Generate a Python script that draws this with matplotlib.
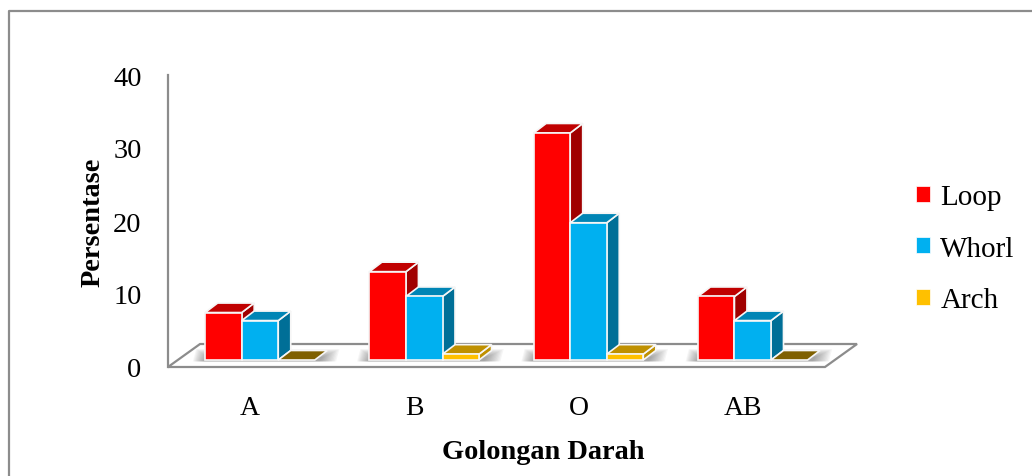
import matplotlib
matplotlib.use('Agg')
import matplotlib.pyplot as plt
from matplotlib.lines import Line2D
from matplotlib.patches import Patch

categories = ['A', 'B', 'O', 'AB']
loop = [6.5, 12.1, 31.1, 8.7]
whorl = [5.4, 8.7, 18.8, 5.4]
arch = [0, 0.8, 0.8, 0]

series_names = ['Loop', 'Whorl', 'Arch']
front_colors = ['#FF0000', '#00B0F0', '#FFC000']
side_colors = ['#A00000', '#006F97', '#BF9000']
top_colors = ['#C00000', '#0085B5', '#BF9000']
zero_color = '#7F6000'

GRAY = '#8C8C8C'
BAR_W = 0.2225
OFF_X = 0.06       # bars sit a little inside the floor
BASE_Y = 0.96
DEPTH_X = 0.076
DEPTH_Y = 1.3
FLOOR_X = 0.195
FLOOR_Y = 3.15

plt.rcParams['font.family'] = ['Liberation Serif', 'DejaVu Serif']


def draw_bar(ax, x, value, i, z):
    y0 = BASE_Y
    y1 = BASE_Y + value
    left = x - BAR_W / 2
    right = x + BAR_W / 2
    edge = dict(edgecolor='#F6F6F6', linewidth=1.2, clip_on=False, zorder=z)
    top = top_colors[i] if value > 0 else zero_color
    if value > 0:
        ax.fill([right, right + DEPTH_X, right + DEPTH_X, right],
                [y0, y0 + DEPTH_Y, y1 + DEPTH_Y, y1], facecolor=side_colors[i], **edge)
    ax.fill([left, right, right + DEPTH_X, left + DEPTH_X],
            [y1, y1, y1 + DEPTH_Y, y1 + DEPTH_Y], facecolor=top, **edge)
    if value > 0:
        ax.bar(x, value, BAR_W, bottom=y0, color=front_colors[i], **edge)


fig = plt.figure(figsize=(10.32, 4.77), dpi=100)
# outer frame: only left and top are inside the picture
fig.add_artist(Line2D([9 / 1032, 9 / 1032, 1], [0, 1 - 11.5 / 477, 1 - 11.5 / 477],
                      color=GRAY, linewidth=1.6, transform=fig.transFigure))

ax = fig.add_axes([168 / 1032, 109 / 477, 657 / 1032, 292 / 477])
ax.set_xlim(-0.5, len(categories) - 0.5)
ax.set_ylim(0, 40)

# floor
ax.fill([-0.5, 3.5, 3.5 + FLOOR_X, -0.5 + FLOOR_X], [0, 0, FLOOR_Y, FLOOR_Y],
        facecolor='white', edgecolor=GRAY, linewidth=1.6, clip_on=False, zorder=1)

values = [loop, whorl, arch]
for g in range(len(categories)):
    cx = g + OFF_X
    # soft shadow under each group, darker towards the middle
    for k in range(12):
        x0 = cx - 1.5 * BAR_W - 0.075 + 0.006 * k
        x1 = cx + 1.5 * BAR_W + 0.13 - 0.009 * k
        y0 = BASE_Y - 0.2
        y1 = BASE_Y + 1.5 - 0.1 * k
        ax.fill([x0, x1, x1 + 0.02, x0 + 0.02], [y0, y0, y1, y1],
                facecolor='#555555', alpha=0.055, edgecolor='none', clip_on=False, zorder=2)
    for i in range(3):
        draw_bar(ax, cx + (i - 1) * BAR_W, values[i][g], i, 3 + i + g * 3)

for side in ['top', 'right', 'bottom']:
    ax.spines[side].set_visible(False)
ax.spines['left'].set_color(GRAY)
ax.spines['left'].set_linewidth(1.6)
ax.patch.set_alpha(0)

ax.set_xticks(range(len(categories)), categories)
ax.set_yticks([0, 10, 20, 30, 40])
ax.tick_params(axis='x', length=0, pad=20, labelsize=20, colors='black')
ax.tick_params(axis='y', length=0, pad=19, labelsize=20.5, colors='black')
ax.set_xlabel('Golongan Darah', fontsize=20.4, fontweight='bold')
ax.set_ylabel('Persentase', fontsize=20.4, fontweight='bold')
ax.xaxis.set_label_coords(0.571, -0.245)
ax.yaxis.set_label_coords(-0.095, 0.5)

handles = [Patch(facecolor=c, edgecolor='white', linewidth=0.5) for c in front_colors]
ax.legend(handles, series_names, loc='center left', bbox_to_anchor=(1.138, 0.405), frameon=False,
          fontsize=21, labelspacing=0.88, handlelength=0.48, handleheight=0.48, handletextpad=0.37,
          borderaxespad=0, borderpad=0)

fig.savefig('out.png', dpi=100)
